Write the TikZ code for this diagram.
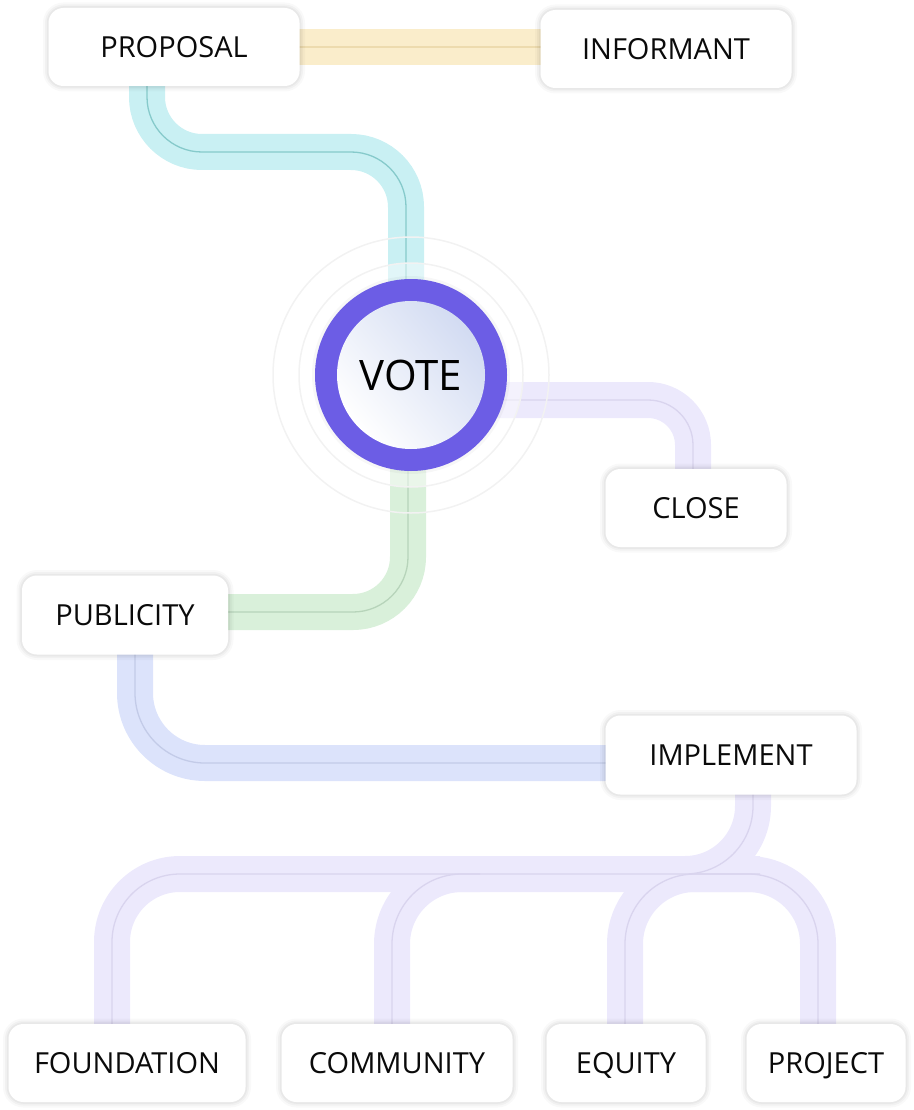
\documentclass[tikz,border=0pt]{standalone}
\usepackage{fontspec}
\setmainfont{Open Sans}
\usetikzlibrary{calc}
\definecolor{yb}{HTML}{FAEDCB}\definecolor{ybl}{HTML}{EDDBAE}
\definecolor{cb}{HTML}{C9F0F3}\definecolor{cbl}{HTML}{86CACB}
\definecolor{lb}{HTML}{ECE9FC}\definecolor{lbl}{HTML}{D9D4EE}
\definecolor{gb}{HTML}{D9F0DA}\definecolor{gbl}{HTML}{B7D4BA}
\definecolor{bb}{HTML}{DCE3FB}\definecolor{bbl}{HTML}{C3CBE8}
\definecolor{votepurple}{HTML}{6C5DE5}
\definecolor{voteblue}{HTML}{D2DBF2}
\definecolor{txt}{HTML}{0A0A0A}
\pgfdeclarelayer{bands}\pgfdeclarelayer{lines}\pgfdeclarelayer{halo}
\pgfsetlayers{bands,lines,halo,main}
\newcommand\mkconn[3]{%
  \begin{pgfonlayer}{bands}\draw[line width=36,draw=#1,#2] #3;\end{pgfonlayer}%
  \begin{pgfonlayer}{lines}\draw[line width=1.3,draw=#1l,#2] #3;\end{pgfonlayer}}
\begin{document}
\begin{tikzpicture}[x=1pt,y=-1pt,
  softshadow/.style={
    preaction={draw=black, draw opacity=0.025, line width=11},
    preaction={draw=black, draw opacity=0.03, line width=7},
    preaction={draw=black, draw opacity=0.04, line width=3.5}},
  box/.style={fill=white, rounded corners=15, minimum height=78, inner sep=0pt,
    text=txt, font=\fontsize{29}{34}\selectfont, text height=20.5pt, text depth=0pt, softshadow},
  votering/.style={circle, fill=votepurple, minimum size=192, inner sep=0pt,
    preaction={draw=black, draw opacity=0.03, line width=6}},
  voteinner/.style={circle, minimum size=148, inner sep=0pt, top color=voteblue, bottom color=white,
    shading angle=-50, text=black, font=\fontsize{42}{48}\selectfont},
]
\useasboundingbox (0,0) rectangle (913,1110);
% nodes
\node[box, minimum width=251] (proposal) at (174,47) {PROPOSAL};
\node[box, minimum width=251] (informant) at (666,49) {INFORMANT};
\node[votering] (vote) at (411,375) {};
\node[voteinner] (votetext) at (vote.center) {VOTE};
\node[box, minimum width=181] (close) at (696,508) {CLOSE};
\node[box, minimum width=206, minimum height=79] (publicity) at (125,615) {PUBLICITY};
\node[box, minimum width=251, minimum height=79] (implement) at (731,755) {IMPLEMENT};
\node[box, minimum width=237] (foundation) at (127,1063) {FOUNDATION};
\node[box, minimum width=231] (community) at (397,1063) {COMMUNITY};
\node[box, minimum width=159] (equity) at (626,1063) {EQUITY};
\node[box, minimum width=159] (project) at (826,1063) {PROJECT};
% bend points
\coordinate (pv) at (406,152);
\coordinate (vc) at (693,400);
\coordinate (vp) at (408,612);
\coordinate (pi) at (135,763);
\coordinate (tj) at (753,874);
\coordinate (fj) at (112,874);
\coordinate (cj) at (480,874);
\coordinate (cv) at (392,874);
\coordinate (ej) at (760,874);
\coordinate (ev) at (625,874);
\coordinate (pj) at (690,874);
\coordinate (pjv) at (818,874);
% connectors
\mkconn{yb}{}{(proposal.center) -- (proposal.center -| informant.center)}
\mkconn{cb}{rounded corners=55}{([xshift=-27]proposal.center) |- (pv) -- (pv |- vote.center)}
\mkconn{lb}{rounded corners=45}{(vote.center |- vc) -- (vc) -- (vc |- close.center)}
\mkconn{gb}{rounded corners=55}{(vp |- vote.center) -- (vp) -- (vp -| publicity.center)}
\mkconn{bb}{rounded corners=70}{(pi |- publicity.center) -- (pi) -- (pi -| implement.center)}
\mkconn{lb}{rounded corners=68}{(tj |- implement.center) -- (tj) -- (fj) -- (fj |- foundation.center)}
\mkconn{lb}{rounded corners=70}{(cj) -- (cv) -- (cv |- community.center)}
\mkconn{lb}{rounded corners=70}{(ej) -- (ev) -- (ev |- equity.center)}
\mkconn{lb}{rounded corners=70}{(pj) -- (pjv) -- (pjv |- project.center)}
% halo
\begin{pgfonlayer}{halo}
\draw[black!5, line width=1.5] (vote.center) circle (138);
\fill[white, opacity=0.45] (vote.center) circle (112);
\draw[black!5, line width=1.5] (vote.center) circle (112);
\end{pgfonlayer}
\end{tikzpicture}
\end{document}
